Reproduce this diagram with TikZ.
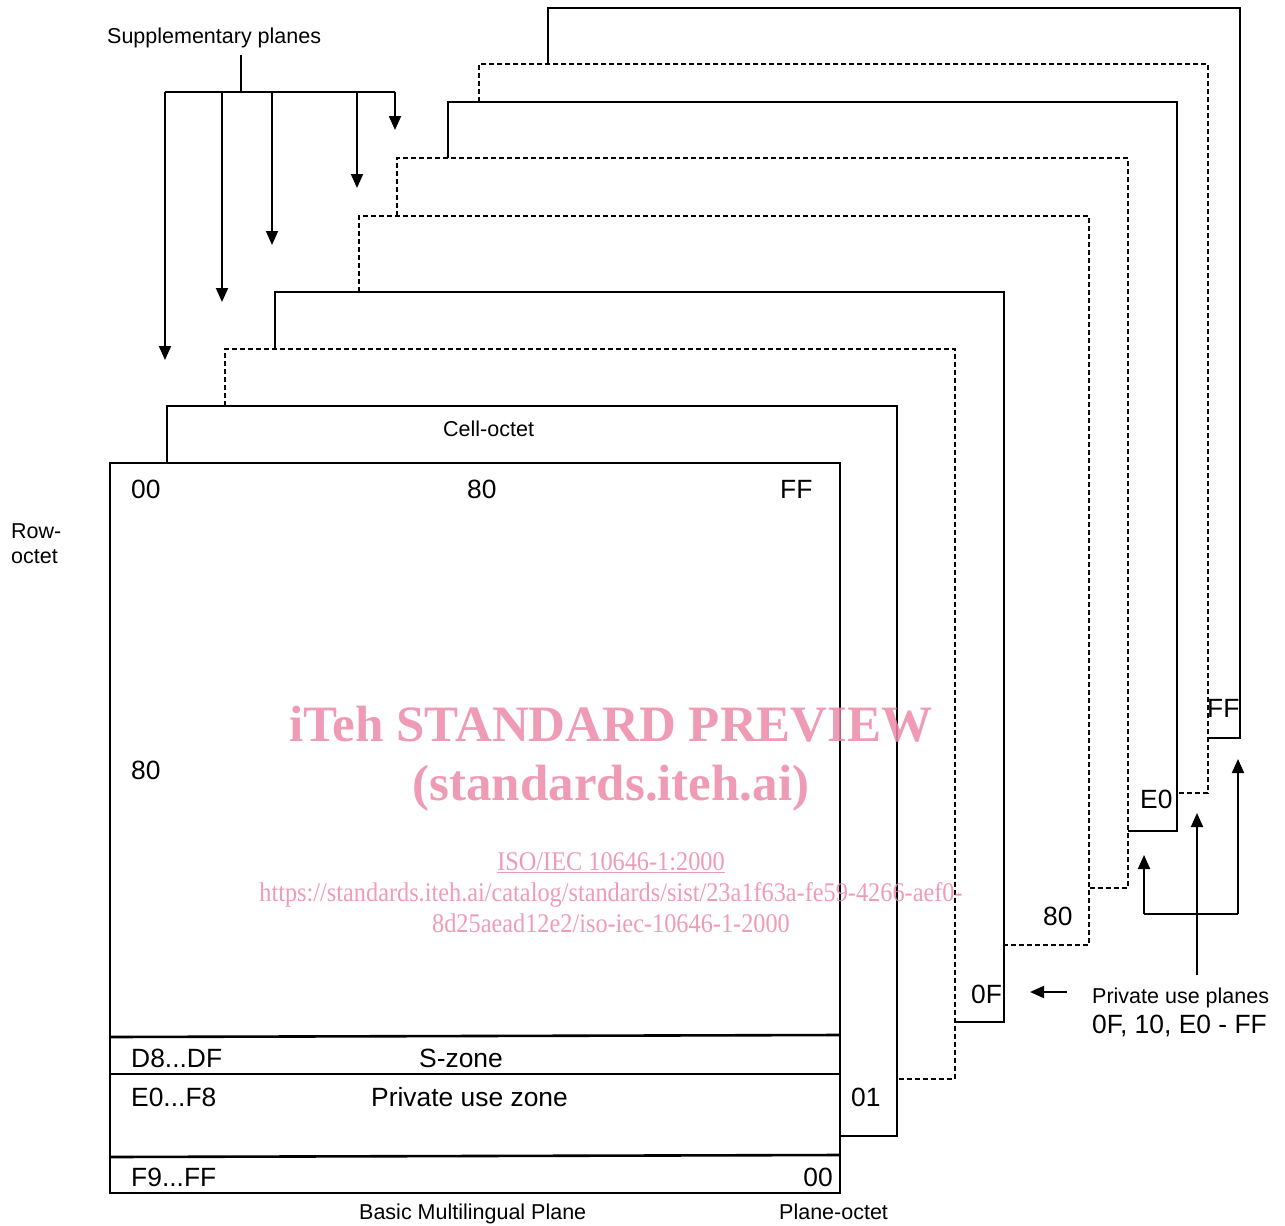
\documentclass[tikz,border=0pt]{standalone}
\usepackage{fontspec}
\setmainfont{Liberation Sans}
\newfontfamily\wmfont{Liberation Serif}
\newfontfamily\wmcond[FakeStretch=0.9]{Liberation Serif}
\usetikzlibrary{arrows.meta}
\definecolor{wmpink}{RGB}{237,138,168}
\tikzset{
  solidln/.style={line width=2.6pt},
  dashln/.style={line width=1.2pt, dash pattern=on 5pt off 3pt},
  arrowln/.style={line width=2pt, -{Triangle[width=12pt,length=14pt]}},
  busln/.style={line width=2pt},
  bigtxt/.style={inner sep=0pt, font=\fontsize{26.4}{30}\selectfont},
  smalltxt/.style={inner sep=0pt, font=\fontsize{21.5}{25}\selectfont},
  wmbig/.style={inner sep=0pt, text=wmpink, opacity=0.85, font=\wmfont\bfseries\fontsize{51}{56}\selectfont},
  wmsmall/.style={inner sep=0pt, text=wmpink, opacity=0.85, font=\wmcond\fontsize{27}{30}\selectfont}
}
\begin{document}
\begin{tikzpicture}[x=1pt,y=-1pt]
\useasboundingbox (0,0) rectangle (1285,1226);
% planes (back to front order not important)
\draw[solidln] (548,64) -- (548,8) -- (1240,8) -- (1240,738) -- (1208,738);
\draw[dashln] (479,102) -- (479,64) -- (1208,64) -- (1208,793) -- (1177,793);
\draw[solidln] (448,158) -- (448,102) -- (1177,102) -- (1177,831) -- (1128,831);
\draw[dashln] (397,216) -- (397,158) -- (1128,158) -- (1128,888) -- (1089,888);
\draw[dashln] (359,292) -- (359,216) -- (1089,216) -- (1089,945) -- (1004,945);
\draw[solidln] (275,349) -- (275,292) -- (1004,292) -- (1004,1022) -- (955,1022);
\draw[dashln] (225,406) -- (225,349) -- (955,349) -- (955,1079) -- (897,1079);
\draw[solidln] (167,463) -- (167,406) -- (897,406) -- (897,1136) -- (840,1136);
\draw[solidln] (110,463) rectangle (840,1193);
\draw[solidln] (110,1037) -- (840,1035);
\draw[solidln] (110,1074) -- (840,1074);
\draw[solidln] (110,1157) -- (840,1155);

% supplementary planes arrows
\coordinate (stemtop) at (241,55);
\coordinate (stembot) at (241,92);
\coordinate (busL) at (165,92);
\coordinate (busR) at (395,92);
\coordinate (b1) at (222,92);
\coordinate (b2) at (272,92);
\coordinate (b3) at (357,92);
\coordinate (t0) at (165,360);
\coordinate (t1) at (222,302);
\coordinate (t2) at (272,245);
\coordinate (t3) at (357,188);
\coordinate (t4) at (395,130);
\draw[busln] (stemtop) -- (stembot);
\draw[busln] (busL) -- (busR);
\draw[arrowln] (busL) -- (t0);
\draw[arrowln] (b1) -- (t1);
\draw[arrowln] (b2) -- (t2);
\draw[arrowln] (b3) -- (t3);
\draw[arrowln] (busR) -- (t4);

% private use arrows
\coordinate (pa1) at (1067,992);
\coordinate (pa2) at (1030,992);
\coordinate (hL) at (1144,914);
\coordinate (hR) at (1238,914);
\coordinate (tL) at (1144,855);
\coordinate (tR) at (1238,759);
\coordinate (mB) at (1197,975);
\coordinate (mT) at (1197,813);
\draw[arrowln] (pa1) -- (pa2);
\draw[busln] (hL) -- (hR);
\draw[arrowln] (hL) -- (tL);
\draw[arrowln] (hR) -- (tR);
\draw[arrowln] (mB) -- (mT);

% texts
\node[smalltxt, anchor=base west] (supp) at (107,43) {Supplementary planes};
\node[smalltxt, anchor=base west] (cell) at (443,436) {Cell-octet};
\node[smalltxt, anchor=base west] (row1) at (11,538) {Row-};
\node[smalltxt, anchor=base west] (row2) at (11,563) {octet};
\node[bigtxt, anchor=base west] (c00) at (131,498) {00};
\node[bigtxt, anchor=base west] (c80) at (467,498) {80};
\node[bigtxt, anchor=base west] (cFF) at (780,498) {FF};
\node[bigtxt, anchor=base west] (r80) at (131,779) {80};
\node[bigtxt, anchor=base west] (d8) at (131,1067) {D8...DF};
\node[bigtxt, anchor=base west] (sz) at (419,1067) {S-zone};
\node[bigtxt, anchor=base west] (e0) at (131,1106) {E0...F8};
\node[bigtxt, anchor=base west] (puz) at (371,1106) {Private use zone};
\node[bigtxt, anchor=base west] (f9) at (131,1186) {F9...FF};
\node[bigtxt, anchor=base east] (p00) at (833,1186) {00};
\node[bigtxt, anchor=base west] (p01) at (851,1106) {01};
\node[bigtxt, anchor=base west] (p0F) at (971,1003) {0F};
\node[bigtxt, anchor=base west] (p80) at (1043,925) {80};
\node[bigtxt, anchor=base west] (pE0) at (1140,808) {E0};
\node[bigtxt, anchor=base west] (pFF) at (1207,717) {FF};
\node[smalltxt, anchor=base west] (pup) at (1092,1003) {Private use planes};
\node[bigtxt, anchor=base west] (pul) at (1092,1033) {0F, 10, E0 - FF};
\node[smalltxt, anchor=base west] (bmp) at (359,1219) {Basic Multilingual Plane};
\node[smalltxt, anchor=base west] (po) at (779,1219) {Plane-octet};

% watermark
\node[wmbig, anchor=base] (wm1) at (611,741) {iTeh STANDARD PREVIEW};
\node[wmbig, anchor=base] (wm2) at (611,800) {(standards.iteh.ai)};
\node[wmsmall, anchor=base] (wm3) at (611,870) {\underline{ISO/IEC 10646-1:2000}};
\node[wmsmall, anchor=base] (wm4) at (611,901) {https://standards.iteh.ai/catalog/standards/sist/23a1f63a-fe59-4266-aef0-};
\node[wmsmall, anchor=base] (wm5) at (611,932) {8d25aead12e2/iso-iec-10646-1-2000};
\end{tikzpicture}
\end{document}
